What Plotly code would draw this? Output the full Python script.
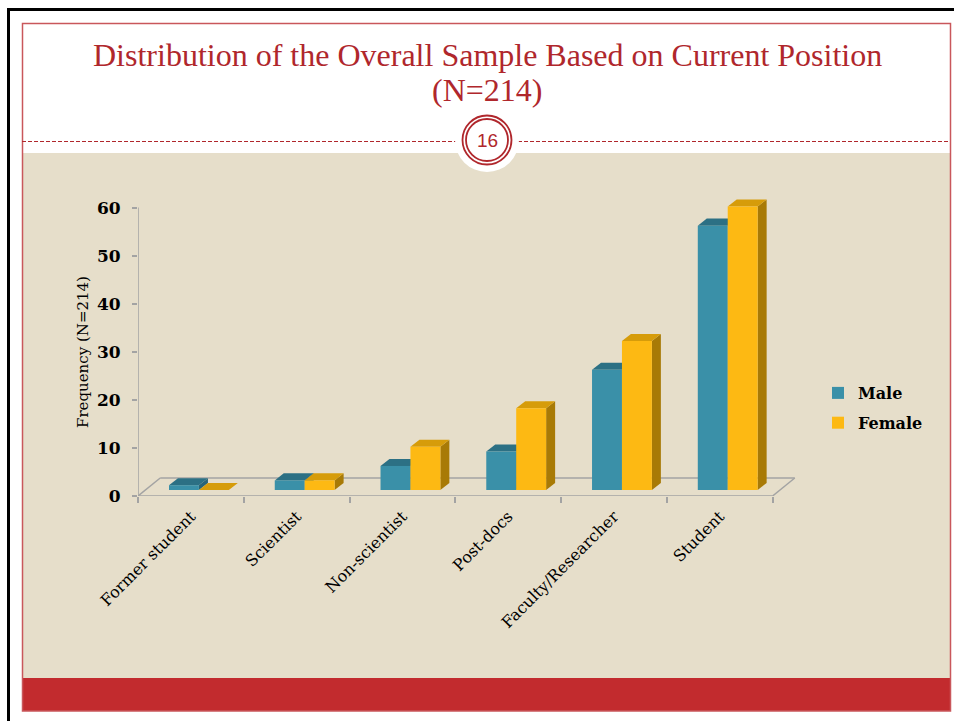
import plotly.graph_objects as go

# ---------------- data ----------------
categories = ["Former student", "Scientist", "Non-scientist", "Post-docs",
              "Faculty/Researcher", "Student"]
male = [1, 2, 5, 8, 25, 55]
female = [0, 2, 9, 17, 31, 59]
y_ticks = [0, 10, 20, 30, 40, 50, 60]
series_names = ["Male", "Female"]
title_lines = ["Distribution of the Overall Sample Based on Current Position", "(N=214)"]
y_title = "Frequency (N=214)"
slide_number = "16"

# ---------------- geometry / style ----------------
W, H = 954, 721
L, R, T, B = 138, 155, 198, 225
PW = W - L - R
PH = H - T - B


def px(x):
    return (x - L) / PW


def py(y):
    return (H - B - y) / PH


BAR_W = 0.283      # bar width in category units
SHIFT = 0.076      # group shift (3D look)
DX = 0.085         # bar depth, category units
DY = 1.46          # bar depth, value units
LIFT = 1.25        # bars stand on the 3D floor
FDX = 0.21         # floor depth
FDY = 3.75

RED = "#B0272C"
BEIGE = "#E6DECA"
AXIS_GRAY = "#A3A3A3"
MALE_FRONT, MALE_TOP, MALE_SIDE = "#3A90A8", "#2C7084", "#276478"
FEM_FRONT, FEM_TOP, FEM_SIDE = "#FDB913", "#D69C0A", "#A87A06"
SERIF = "Liberation Serif"
SERIF2 = "DejaVu Serif"

fig = go.Figure()
fig.add_trace(go.Bar(
    x=categories, y=male, base=LIFT, width=BAR_W, offset=-BAR_W + SHIFT,
    name=series_names[0], legendgroup="m",
    marker=dict(color=MALE_FRONT, line=dict(width=0)),
))
fig.add_trace(go.Bar(
    x=categories, y=female, base=LIFT, width=BAR_W, offset=SHIFT,
    name=series_names[1], legendgroup="f",
    marker=dict(color=FEM_FRONT, line=dict(width=0)),
))

shapes = []


def prect(x0, y0, x1, y1, fill, line_color=None, lw=0, layer="below"):
    return dict(type="rect", xref="paper", yref="paper",
                x0=px(x0), x1=px(x1), y0=py(y1), y1=py(y0),
                fillcolor=fill, layer=layer,
                line=dict(width=lw, color=line_color or fill))


shapes.append(prect(22, 153, 950, 678, BEIGE))
shapes.append(prect(22, 678, 950, 711, "#C22B2E"))
shapes.append(dict(type="rect", xref="paper", yref="paper",
                   x0=px(22.5), x1=px(950.5), y0=py(711), y1=py(23.5),
                   fillcolor="rgba(0,0,0,0)", layer="below",
                   line=dict(width=1.5, color="#C9575B")))
shapes.append(prect(7, 8, 954, 11, "black"))
shapes.append(prect(7, 8, 10, 721, "black"))
for xa, xb in [(22, 456), (518, 950)]:
    shapes.append(dict(type="line", xref="paper", yref="paper",
                       x0=px(xa), x1=px(xb), y0=py(141.5), y1=py(141.5),
                       layer="below", line=dict(color=RED, width=1, dash="4px,2px")))
CX, CY = 487, 140
shapes.append(dict(type="circle", xref="paper", yref="paper",
                   x0=px(CX - 32), x1=px(CX + 32), y0=py(CY + 32), y1=py(CY - 32),
                   fillcolor="white", line=dict(width=0), layer="below"))
for r in (24.5, 21):
    shapes.append(dict(type="circle", xref="paper", yref="paper",
                       x0=px(CX - r), x1=px(CX + r), y0=py(CY + r), y1=py(CY - r),
                       fillcolor="rgba(0,0,0,0)", line=dict(width=1.8, color=RED),
                       layer="below"))

n = len(categories)
xl, xr = -0.5, n - 0.5
for (a, b), (c, d) in [((xl, 0), (xr, 0)),
                       ((xl, 0), (xl, y_ticks[-1])),
                       ((xl, 0), (xl + FDX, FDY)),
                       ((xr, 0), (xr + FDX, FDY)),
                       ((xl + FDX, FDY), (xr + FDX, FDY))]:
    shapes.append(dict(type="line", xref="x", yref="y", x0=a, y0=b, x1=c, y1=d,
                       layer="below", line=dict(color=AXIS_GRAY, width=1.5)))


def top_face(x0, x1, top, color):
    return dict(type="path", xref="x", yref="y", layer="below",
                path=f"M{x0},{top} L{x1},{top} L{x1 + DX},{top + DY} L{x0 + DX},{top + DY} Z",
                fillcolor=color, line=dict(width=0))


def side_face(x1, top, color):
    return dict(type="path", xref="x", yref="y", layer="below",
                path=f"M{x1},{LIFT} L{x1 + DX},{LIFT + DY} L{x1 + DX},{top + DY} L{x1},{top} Z",
                fillcolor=color, line=dict(width=0))


for i in range(n):
    m_x0, m_x1 = i - BAR_W + SHIFT, i + SHIFT
    f_x0, f_x1 = i + SHIFT, i + SHIFT + BAR_W
    m_top = male[i] + LIFT
    f_top = female[i] + LIFT
    shapes.append(side_face(m_x1, m_top, MALE_SIDE))
    shapes.append(top_face(m_x0, m_x1, m_top, MALE_TOP))
    shapes.append(side_face(f_x1, f_top, FEM_SIDE))
    shapes.append(top_face(f_x0, f_x1, f_top, FEM_TOP))

annotations = [
    dict(text=title_lines[0], xref="paper", yref="paper", x=px(487), y=py(55),
         xanchor="center", yanchor="middle", showarrow=False,
         font=dict(family=SERIF, size=32, color=RED)),
    dict(text=title_lines[1], xref="paper", yref="paper", x=px(487), y=py(90),
         xanchor="center", yanchor="middle", showarrow=False,
         font=dict(family=SERIF, size=32, color=RED)),
    dict(text=slide_number, xref="paper", yref="paper", x=px(CX), y=py(CY),
         xanchor="center", yanchor="middle", showarrow=False,
         font=dict(family="Liberation Sans", size=19, color=RED)),
    dict(text=y_title, xref="paper", yref="paper", x=px(83), y=py(352),
         xanchor="center", yanchor="middle", showarrow=False, textangle=-90,
         font=dict(family=SERIF2, size=15, color="black")),
]

fig.update_layout(
    width=W, height=H, autosize=False,
    margin=dict(l=L, r=R, t=T, b=B, pad=0),
    paper_bgcolor="white", plot_bgcolor="rgba(0,0,0,0)",
    barmode="group", showlegend=True,
    shapes=shapes, annotations=annotations,
    legend=dict(x=px(818), y=py(376), xanchor="left", yanchor="top",
                bgcolor="rgba(0,0,0,0)", tracegroupgap=6, itemwidth=30,
                font=dict(family=SERIF2, size=16, color="black", weight="bold")),
    xaxis=dict(type="category", range=[-0.5, n - 0.5 + 0.25],
               showline=False, showgrid=False, zeroline=False,
               ticks="outside", tickson="boundaries", ticklen=6, tickwidth=1.5,
               tickcolor=AXIS_GRAY, tickangle=-45, ticklabelstandoff=7,
               tickfont=dict(family=SERIF2, size=16, color="black")),
    yaxis=dict(range=[0, 62], tickvals=y_ticks, showline=False, showgrid=False,
               zeroline=False, ticks="outside", ticklen=5, tickwidth=1.5,
               tickcolor=AXIS_GRAY, ticklabelstandoff=8,
               tickfont=dict(family=SERIF2, size=17, color="black", weight="bold")),
)

fig.write_html("out.html", config={"displayModeBar": False},
               post_script="document.body.style.margin='0';document.body.style.overflow='hidden';")
